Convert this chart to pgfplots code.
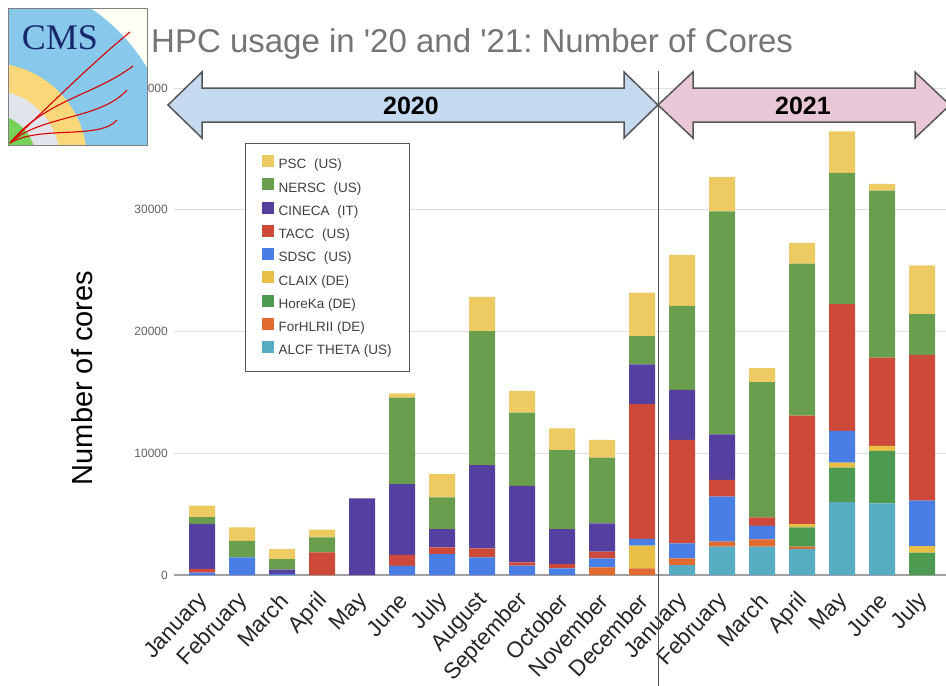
\documentclass[border=0pt]{standalone}
\usepackage{pgfplots}
\pgfplotsset{compat=1.18}
\usepackage{pgfplotstable}
\usepackage{fontspec}
\setmainfont{Liberation Sans}
\newfontfamily\serifcms{Liberation Serif}
\frenchspacing

\definecolor{cPSC}{RGB}{238,202,98}
\definecolor{cNERSC}{RGB}{106,158,79}
\definecolor{cCINECA}{RGB}{85,64,160}
\definecolor{cTACC}{RGB}{205,74,58}
\definecolor{cSDSC}{RGB}{72,126,230}
\definecolor{cCLAIX}{RGB}{232,190,70}
\definecolor{cHOREKA}{RGB}{78,154,80}
\definecolor{cFOR}{RGB}{224,106,48}
\definecolor{cALCF}{RGB}{88,172,196}
\definecolor{gridgray}{RGB}{222,222,222}
\definecolor{axisgray}{RGB}{160,160,160}
\definecolor{tickgray}{RGB}{95,95,95}
\definecolor{titlegray}{RGB}{117,117,117}
\definecolor{arrowblue}{RGB}{197,217,240}
\definecolor{arrowpink}{RGB}{232,200,214}
\definecolor{arrowedge}{RGB}{85,85,85}
\definecolor{cmsblue}{RGB}{135,200,235}
\definecolor{cmsyellow}{RGB}{250,215,120}
\definecolor{cmsgray}{RGB}{226,228,236}
\definecolor{cmsgreen}{RGB}{120,210,90}
\definecolor{cmsnavy}{RGB}{25,40,110}

\pgfplotstableread{
m ALCF FOR HOR CLA SDSC TACC CIN NER PSC
0 0 0 0 0 200 300 3700 550 950
1 0 0 0 0 1450 0 0 1360 1100
2 0 0 0 0 100 0 340 870 820
3 0 0 0 0 0 1860 0 1230 630
4 0 0 0 0 0 0 6300 0 0
5 0 0 0 0 760 900 5800 7100 350
6 0 0 0 0 1720 550 1500 2600 1910
7 0 0 0 0 1450 740 6830 11020 2810
8 0 0 0 0 770 270 6290 6010 1780
9 0 0 0 0 550 350 2870 6480 1800
10 0 630 0 0 740 550 2320 5410 1450
11 0 550 0 1860 550 11070 3280 2320 3560
12 820 550 0 0 1230 8500 4110 6900 4190
13 2330 410 0 0 3700 1370 3750 18300 2820
14 2330 600 0 0 1100 710 0 11100 1150
15 2140 190 1590 250 0 8930 0 12470 1700
16 5980 0 2840 410 2610 10410 0 10770 3420
17 5890 0 4300 410 0 7260 0 13710 550
18 0 0 1830 550 3730 11970 0 3350 4000
}\datatable

\begin{document}
\begin{tikzpicture}[x=1pt,y=1pt]
\useasboundingbox (0pt,0pt) rectangle (946pt,-686pt);
\begin{axis}[
  at={(174pt,-575pt)}, anchor=south west,
  scale only axis, width=772pt, height=487pt,
  xmin=-0.7, xmax=18.6, ymin=0, ymax=40000,
  ybar stacked, bar width=26pt,
  axis x line*=bottom, axis y line*=left,
  x axis line style={color=axisgray, line width=1.2pt},
  y axis line style={draw=none},
  ymajorgrids, grid style={color=gridgray, line width=0.9pt},
  major tick length=0pt,
  ytick={0,10000,20000,30000,40000},
  scaled y ticks=false,
  /pgf/number format/fixed, /pgf/number format/1000 sep={},
  /pgf/number format/assume math mode=true,
  yticklabel style={font=\fontsize{12}{12}\selectfont, text=tickgray, inner sep=0pt, anchor=east, xshift=-6pt},
  xtick={0,...,18},
  xticklabels={January,February,March,April,May,June,July,August,September,October,November,December,January,February,March,April,May,June,July},
  xticklabel style={font=\fontsize{22.5}{22.5}\selectfont, text={black!85}, inner sep=0pt, xshift=2pt, yshift=-22pt, rotate=47, anchor=east},
  reverse legend,
  legend cell align=left,
  legend image code/.code={\fill[#1] (0pt,-1.5pt) rectangle (12pt,10.5pt);},
  legend style={at={(0.092,0.887)}, anchor=north west, draw=arrowedge, line width=1.3pt,
    fill=white, font=\fontsize{13.5}{13.5}\selectfont, text=black!75,
    inner xsep=16pt, inner ysep=11.5pt, row sep=4.5pt, column sep=3pt,
    nodes={text height=9.5pt, text depth=3pt}},
]
\addplot[fill=cALCF, draw=none] table[x=m,y=ALCF]{\datatable};
\addlegendentry{ALCF THETA (US)}
\addplot[fill=cFOR, draw=none] table[x=m,y=FOR]{\datatable};
\addlegendentry{ForHLRII (DE)}
\addplot[fill=cHOREKA, draw=none] table[x=m,y=HOR]{\datatable};
\addlegendentry{HoreKa (DE)}
\addplot[fill=cCLAIX, draw=none] table[x=m,y=CLA]{\datatable};
\addlegendentry{CLAIX (DE)}
\addplot[fill=cSDSC, draw=none] table[x=m,y=SDSC]{\datatable};
\addlegendentry{SDSC\hspace{0.3em} (US)}
\addplot[fill=cTACC, draw=none] table[x=m,y=TACC]{\datatable};
\addlegendentry{TACC\hspace{0.3em} (US)}
\addplot[fill=cCINECA, draw=none] table[x=m,y=CIN]{\datatable};
\addlegendentry{CINECA\hspace{0.3em} (IT)}
\addplot[fill=cNERSC, draw=none] table[x=m,y=NER]{\datatable};
\addlegendentry{NERSC\hspace{0.3em} (US)}
\addplot[fill=cPSC, draw=none] table[x=m,y=PSC]{\datatable};
\addlegendentry{PSC\hspace{0.3em} (US)}
\end{axis}

% year arrows
\draw[fill=arrowblue, draw=arrowedge, line width=1.5pt, line join=miter]
  (168pt,-105pt) -- (202pt,-72pt) -- (202pt,-88pt) -- (624pt,-88pt) -- (624pt,-72pt) -- (658pt,-105pt)
  -- (624pt,-138pt) -- (624pt,-122pt) -- (202pt,-122pt) -- (202pt,-138pt) -- cycle;
\draw[fill=arrowpink, draw=arrowedge, line width=1.5pt, line join=miter]
  (658pt,-105pt) -- (693pt,-72pt) -- (693pt,-88pt) -- (915pt,-88pt) -- (915pt,-72pt) -- (950pt,-105pt)
  -- (915pt,-138pt) -- (915pt,-122pt) -- (693pt,-122pt) -- (693pt,-138pt) -- cycle;
\node[font=\bfseries\fontsize{25}{25}\selectfont] at (411pt,-106pt) {2020};
\node[font=\bfseries\fontsize{25}{25}\selectfont] at (803pt,-106pt) {2021};
\draw[color=arrowedge, line width=1.3pt] (658.3pt,-71pt) -- (658.3pt,-686pt);

% title and axis label
\node[anchor=base west, inner sep=0pt, text=titlegray, font=\fontsize{33}{33}\selectfont] at (151pt,-52pt) {HPC usage in \textquotesingle 20 and \textquotesingle 21: Number of Cores};
\node[rotate=90, inner sep=0pt, font=\fontsize{29}{29}\selectfont] at (82pt,-378pt) {Number of cores};

% CMS logo
\begin{scope}
\clip (8pt,-8pt) rectangle (147pt,-145pt);
\fill[white!96!yellow] (8pt,-8pt) rectangle (147pt,-145pt);
\fill[cmsblue] (-10pt,-160pt) circle (182pt);
\fill[cmsyellow] (-10pt,-160pt) circle (97pt);
\fill[cmsgray] (-10pt,-160pt) circle (70pt);
\fill[cmsgreen] (-10pt,-160pt) circle (46pt);
\draw[red!85!black, line width=1.1pt] (10pt,-143pt) .. controls (50pt,-105pt) and (90pt,-65pt) .. (130pt,-32pt);
\draw[red!85!black, line width=1.1pt] (10pt,-143pt) .. controls (45pt,-100pt) and (95pt,-95pt) .. (133pt,-66pt);
\draw[red!85!black, line width=1.1pt] (10pt,-143pt) .. controls (40pt,-115pt) and (100pt,-120pt) .. (127pt,-90pt);
\draw[red!85!black, line width=1.1pt] (10pt,-143pt) .. controls (40pt,-125pt) and (100pt,-140pt) .. (117pt,-120pt);
\node[text=cmsnavy, font=\serifcms\fontsize{36}{36}\selectfont] at (60pt,-38pt) {CMS};
\end{scope}
\draw[color=gray, line width=1pt] (8pt,-8pt) rectangle (147pt,-145pt);
\end{tikzpicture}
\end{document}
